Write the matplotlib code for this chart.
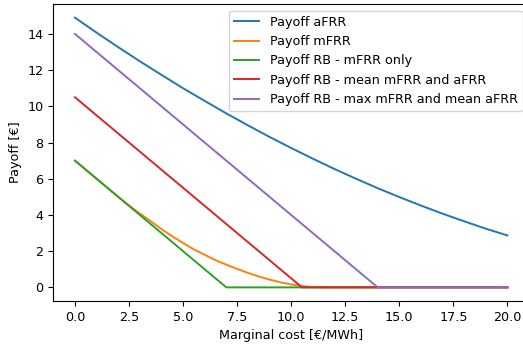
import matplotlib
matplotlib.use("Agg")
import matplotlib.pyplot as plt

plt.rcParams["font.size"] = 9.2
plt.rcParams["lines.linewidth"] = 1.4

# marginal cost grid [€/MWh]
x_afrr = [0, 1, 2, 3, 4, 5, 6, 7, 8, 9, 10, 11, 12, 13, 14, 15, 16, 17, 18, 19, 20]
payoff_afrr = [14.90, 14.07, 13.27, 12.49, 11.74, 11.00, 10.30, 9.61, 8.95, 8.31, 7.70,
               7.11, 6.54, 6.00, 5.48, 4.99, 4.52, 4.07, 3.65, 3.24, 2.87]

x_mfrr = [0, 0.5, 1, 1.5, 2, 2.5, 3, 3.5, 4, 4.5, 5, 5.5, 6, 6.5, 7, 7.5, 8, 8.5, 9, 9.5,
          10, 10.5, 11, 11.5, 12, 14, 16, 18, 20]
payoff_mfrr = [7.0, 6.5, 6.0, 5.5, 5.0, 4.52, 4.08, 3.66, 3.22, 2.82, 2.45, 2.10, 1.80, 1.50,
               1.25, 1.02, 0.80, 0.60, 0.43, 0.28, 0.16, 0.07, 0.02, 0.0, 0.0, 0.0, 0.0, 0.0, 0.0]

x_rb_only = [0, 7, 20]
payoff_rb_only = [7.0, 0.0, 0.0]

x_rb_mean = [0, 10.5, 20]
payoff_rb_mean = [10.5, 0.0, 0.0]

x_rb_max = [0, 14, 20]
payoff_rb_max = [14.0, 0.0, 0.0]

fig, ax = plt.subplots(figsize=(5.23, 3.47), dpi=100)
# the original figure is cropped on the right, so the axes run past the edge
fig.subplots_adjust(left=0.102, right=1.0115, bottom=0.133, top=0.988)

ax.plot(x_afrr, payoff_afrr, label="Payoff aFRR")
ax.plot(x_mfrr, payoff_mfrr, label="Payoff mFRR")
ax.plot(x_rb_only, payoff_rb_only, label="Payoff RB - mFRR only")
ax.plot(x_rb_mean, payoff_rb_mean, label="Payoff RB - mean mFRR and aFRR")
ax.plot(x_rb_max, payoff_rb_max, label="Payoff RB - max mFRR and mean aFRR")

ax.set_xlabel("Marginal cost [€/MWh]")
ax.set_ylabel("Payoff [€]")
ax.legend(loc="upper right")

fig.savefig("out.png")
